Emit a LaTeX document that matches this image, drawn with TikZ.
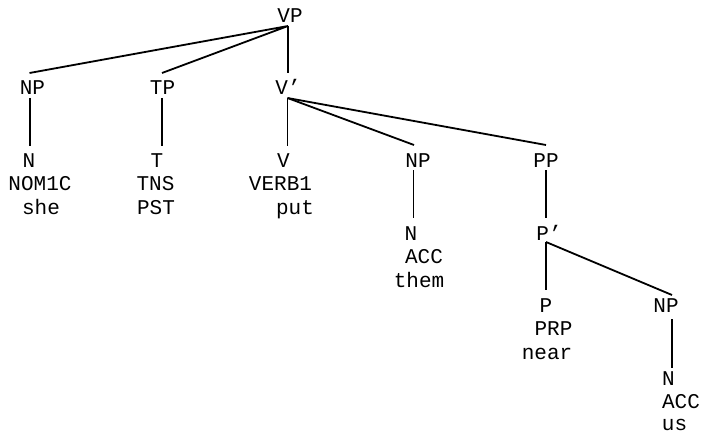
\documentclass[tikz,border=0pt]{standalone}
\usepackage{fontspec}
\setmonofont{Liberation Mono}
\begin{document}
\begin{tikzpicture}[x=1pt,y=-1pt,
  lab/.style={font=\ttfamily\fontsize{21}{23}\selectfont, inner sep=0pt, anchor=base},
  edge/.style={line width=1.8pt}]
\useasboundingbox (0,0) rectangle (703,433);
% row 1
\node[lab] (VP) at (290,23) {VP};
% row 2
\node[lab] (NPa) at (32.5,95) {NP};
\node[lab] (TP) at (162.5,95) {TP};
\node[lab] (Vbar) at (288,95) {V’};
% row 3
\node[lab] (Na) at (29,167) {N};
\node[lab] (NOM) at (40,190.5) {NOM1C};
\node[lab] (she) at (41,214) {she};
\node[lab] (Ta) at (157,167) {T};
\node[lab] (TNS) at (155.5,190.5) {TNS};
\node[lab] (PST) at (156,214) {PST};
\node[lab] (Va) at (283.5,167) {V};
\node[lab] (VERB) at (280.5,190.5) {VERB1};
\node[lab] (put) at (295,214) {put};
\node[lab] (NPb) at (418,167) {NP};
\node[lab] (PP) at (546,167) {PP};
% row 4
\node[lab] (Nb) at (411,240) {N};
\node[lab] (ACCb) at (424,263.5) {ACC};
\node[lab] (them) at (419,287) {them};
\node[lab] (Pbar) at (549,240) {P’};
% row 5
\node[lab] (P) at (546,312) {P};
\node[lab] (PRP) at (553.5,335.5) {PRP};
\node[lab] (near) at (547,359) {near};
\node[lab] (NPc) at (666,312) {NP};
% row 6
\node[lab] (Nc) at (668.5,385) {N};
\node[lab] (ACCc) at (681,408.5) {ACC};
\node[lab] (us) at (674.5,430.5) {us};
% connector end points
\coordinate (VP-b) at (288,26);
\coordinate (NPa-t) at (29.5,73);
\coordinate (TP-t) at (162,73);
\coordinate (Vbar-t) at (288,73);
\coordinate (NPa-b) at (30,98);
\coordinate (Na-t) at (30,146);
\coordinate (TP-b) at (162,98);
\coordinate (Ta-t) at (162,146);
\coordinate (Vbar-b) at (287.5,98);
\coordinate (Va-t) at (287.5,145.5);
\coordinate (NPb-t) at (414,145);
\coordinate (PP-t) at (546,145);
\coordinate (NPb-b) at (413.5,170);
\coordinate (Nb-t) at (413.5,218);
\coordinate (PP-b) at (546,170);
\coordinate (Pbar-t) at (546,218);
\coordinate (Pbar-b) at (546,242);
\coordinate (P-t) at (546,290);
\coordinate (NPc-t) at (672,295);
\coordinate (NPc-b) at (672,319);
\coordinate (Nc-t) at (672,368);
% connectors
\draw[edge] (NPa-t) -- (VP-b) -- (TP-t);
\draw[edge] (VP-b) -- (Vbar-t);
\draw[edge] (NPa-b) -- (Na-t);
\draw[edge] (TP-b) -- (Ta-t);
\draw[edge] (Vbar-b) -- (Va-t);
\draw[edge] (Vbar-b) -- (NPb-t);
\draw[edge] (Vbar-b) -- (PP-t);
\draw[edge] (NPb-b) -- (Nb-t);
\draw[edge] (PP-b) -- (Pbar-t);
\draw[edge] (Pbar-b) -- (P-t);
\draw[edge] (Pbar-b) -- (NPc-t);
\draw[edge] (NPc-b) -- (Nc-t);
\end{tikzpicture}
\end{document}
